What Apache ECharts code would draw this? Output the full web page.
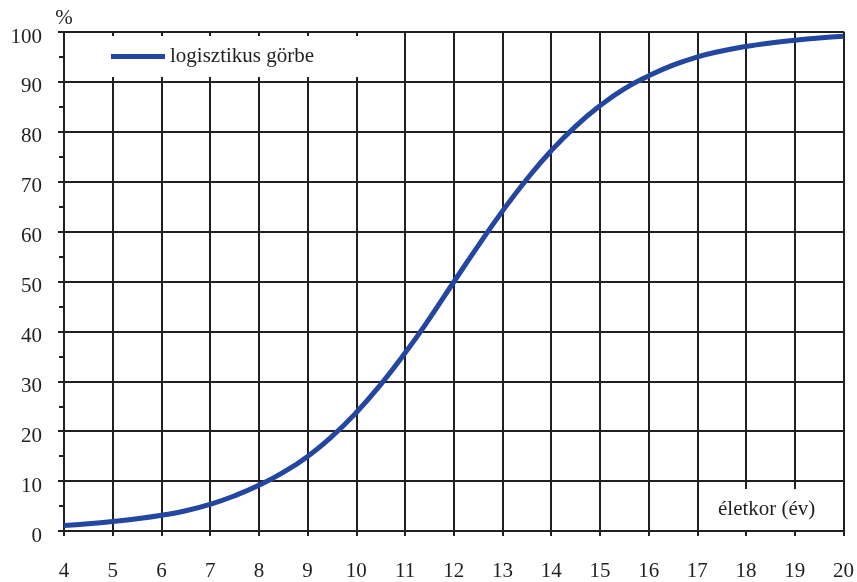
<!DOCTYPE html>
<html>
<head>
<meta charset="utf-8">
<script src="https://cdn.jsdelivr.net/npm/echarts@6/dist/echarts.min.js"></script>
<style>
html,body{margin:0;padding:0;background:#fff;}
#chart{width:857px;height:582px;}
</style>
</head>
<body>
<div id="chart"></div>
<script>
// életkor (év) values
const ages = [4, 4.5, 5, 5.5, 6, 6.5, 7, 7.5, 8, 8.5, 9, 9.5, 10, 10.5, 11, 11.5, 12, 12.5, 13, 13.5, 14, 14.5, 15, 15.5, 16, 16.5, 17, 17.5, 18, 18.5, 19, 19.5, 20];
// logisztikus görbe, %
const logisticValues = [1.1, 1.45, 1.9, 2.45, 3.15, 4.05, 5.35, 7.05, 9.15, 11.75, 14.95, 18.95, 23.75, 29.35, 35.65, 42.55, 49.9, 57.15, 64.1, 70.5, 76.2, 81.1, 85.2, 88.6, 91.2, 93.35, 95.0, 96.2, 97.1, 97.8, 98.35, 98.8, 99.15];
const seriesName = 'logisztikus görbe';
const xAxisTitle = 'életkor (év)';
const yAxisUnit = '%';

const ink = '#231f20';
const font = 'Liberation Serif';

const chart = echarts.init(document.getElementById('chart'), null, {renderer: 'canvas'});
chart.setOption({
  animation: false,
  backgroundColor: '#ffffff',
  textStyle: {fontFamily: font, color: ink},
  grid: {left: 64, right: 10, top: 32, bottom: 47, containLabel: false},
  title: {
    text: xAxisTitle,
    left: 703, top: 489,
    backgroundColor: '#ffffff',
    padding: [10, 24, 10, 15],
    textStyle: {fontFamily: font, fontSize: 21, fontWeight: 'normal', color: ink}
  },
  legend: {
    left: 67, top: 36,
    backgroundColor: '#ffffff',
    padding: [10, 80, 10, 44],
    itemWidth: 54, itemHeight: 5, itemGap: 0,
    icon: 'rect',
    textStyle: {fontFamily: font, fontSize: 21, color: ink, padding: [3, 0, 0, 0]},
    data: [seriesName]
  },
  xAxis: [{
    type: 'value', position: 'bottom',
    min: 4, max: 20, interval: 1,
    axisLine: {show: true, lineStyle: {color: ink, width: 2}},
    axisTick: {show: true, inside: false, length: 5, lineStyle: {color: ink, width: 2}},
    axisLabel: {fontFamily: font, fontSize: 21, color: ink, margin: 30},
    splitLine: {show: true, lineStyle: {color: ink, width: 2}}
  }, {
    type: 'value', position: 'top',
    min: 4, max: 20, interval: 1,
    axisLine: {show: true, lineStyle: {color: ink, width: 2}},
    axisTick: {show: true, inside: true, length: 4, lineStyle: {color: ink, width: 2}},
    axisLabel: {show: false},
    splitLine: {show: false}
  }],
  yAxis: [{
    type: 'value', position: 'left',
    min: 0, max: 100, interval: 10,
    name: yAxisUnit, nameLocation: 'end', nameGap: 3,
    nameTextStyle: {fontFamily: font, fontSize: 21, color: ink, align: 'center'},
    axisLine: {show: true, lineStyle: {color: ink, width: 2}},
    axisTick: {show: true, inside: false, length: 6, lineStyle: {color: ink, width: 2}},
    minorTick: {show: true, splitNumber: 2, length: 5, lineStyle: {color: ink, width: 2}},
    axisLabel: {fontFamily: font, fontSize: 21, color: ink, margin: 22, verticalAlign: 'top', lineHeight: 10},
    splitLine: {show: true, lineStyle: {color: ink, width: 2}}
  }],
  series: [{
    name: seriesName,
    type: 'line',
    xAxisIndex: 0,
    data: ages.map((a, i) => [a, logisticValues[i]]),
    smooth: 0.5,
    showSymbol: false,
    symbol: 'none',
    lineStyle: {color: '#2347a0', width: 5},
    itemStyle: {color: '#2347a0'},
    z: 3
  }]
});
</script>
</body>
</html>
